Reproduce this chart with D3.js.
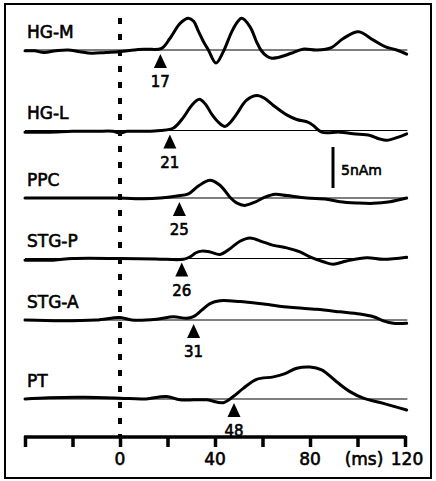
<!DOCTYPE html>
<html><head><meta charset="utf-8">
<script src="https://cdn.jsdelivr.net/npm/d3@7"></script>
<style>body{margin:0;background:#fff}svg{display:block}</style>
</head><body>
<script>
// ---- data (time in ms, amplitude in nAm) ----
const regions = ["HG-M", "HG-L", "PPC", "STG-P", "STG-A", "PT"];
const latencies = [17, 21, 25, 26, 31, 48];
const hgM = [[-40,-0.1],[-36,-0.1],[-32,-0.3],[-27,-0.1],[-22,0],[-17,-0.2],[-12,-0.4],[-6,-0.3],[0,-0.2],[6,0],[11,0.1],[17.5,0.2],[21,1.4],[25.3,3.25],[28.8,3.87],[31,3.5],[33,2.3],[35,1.1],[37.2,0],[40.4,-1.6],[43.5,-0.2],[47.7,2.6],[51.2,3.87],[54.7,2.85],[57.5,1.0],[59.3,0],[62,-0.8],[64,-1.0],[68,-0.8],[72,-0.4],[77,0.1],[83,0],[89,0.3],[94,1.4],[100.4,2.23],[106.7,1.2],[111.6,0.4],[116.5,0],[120.7,-0.5]];
const hgL = [[-40,-0.2],[-30,-0.2],[-20,-0.1],[-10,-0.1],[-3,-0.1],[0,-0.3],[3,-0.1],[10,-0.1],[17,0],[22.5,0.3],[26.7,1.6],[30,3.0],[33.4,3.8],[36,3.2],[38.6,2.0],[41.5,1.0],[44.2,0.5],[46.5,1.0],[49.1,2.0],[53.3,3.7],[57.8,4.27],[61,3.9],[64.6,3.05],[70.2,1.9],[74.4,1.34],[79.3,1.0],[81.4,0.6],[84.9,-0.2],[92.6,-0.2],[98.2,-0.4],[105.3,-0.6],[109,-1.0],[112.3,-1.2],[117.2,-0.8],[120.7,-0.4]];
const ppc = [[-40,0],[-20,0],[0,0],[10,-0.1],[17,0],[24,0.25],[28.8,0.5],[33,1.46],[37.9,2.16],[42.1,1.55],[46.3,0.1],[49.1,-0.6],[52.6,-0.9],[56.8,-0.5],[61,0.1],[65.3,0.45],[70.2,0.3],[78.6,0],[87,-0.15],[92.6,-0.45],[99.6,-0.6],[106.7,-0.65],[113.7,-0.45],[120.7,0]];
const stgP = [[-40,-0.2],[-28,-0.2],[-20,0],[0,0],[15,-0.05],[26.7,-0.1],[29.5,0.2],[32,0.7],[34.4,0.9],[37.9,0.8],[42.1,0.5],[46.3,1.2],[50.5,2.1],[54.7,2.5],[60.4,2.0],[64.6,1.6],[70.2,1.3],[75.8,0.8],[80.7,0.1],[85.6,-0.4],[89.8,-0.7],[95.4,-0.3],[103.9,0.1],[110.9,-0.1],[120.7,0.15]];
const stgA = [[-40,0],[-25,-0.1],[-10,0],[0,0.3],[5,0],[15.4,0.1],[22.5,0.4],[28.1,0.2],[30.9,0.4],[34.4,1.2],[37.9,2.0],[42.1,2.35],[50.5,2.25],[60.4,1.95],[71.6,1.55],[82.8,1.3],[92.6,1.0],[101,0.73],[106.7,0.4],[110.9,-0.1],[115.1,-0.4],[120.7,-0.4]];
const pt = [[-40,0],[-30,0.15],[-15,0.2],[0,0.1],[10,0],[19.6,0.3],[25.3,-0.1],[36.5,-0.1],[43.5,-0.45],[47.7,0.3],[51.9,1.3],[57.5,2.4],[64.6,2.7],[69.5,3.1],[74.4,3.75],[80,3.9],[84.9,3.55],[91.2,2.1],[96.8,0.9],[102.5,0.1],[110.9,-0.53],[120.7,-1.34]];
const series = [hgM, hgL, ppc, stgP, stgA, pt];
const xTicks = [-40, -20, 0, 20, 40, 60, 80, 100, 120];
const xTickLabels = [0, 40, 80, 120];
const unitLabel = "(ms)";
const scaleBarValue = 5;
const scaleBarLabel = "5nAm";

// ---- layout ----
const W = 436, H = 481;
const baselines = [50, 130.5, 198, 258.5, 320, 399];
const axisY = 437;
const font = "'DejaVu Sans', sans-serif";

const svg = d3.select("body").append("svg").attr("width", W).attr("height", H);

const x = d3.scaleLinear().domain([-40, 120]).range([25, 405]);
const amp = d3.scaleLinear().domain([0, 5]).range([0, -41]);

function txt(sel, size) {
  return sel.attr("font-family", font).attr("font-size", size)
    .attr("fill", "#000").attr("stroke", "#000").attr("stroke-width", 0.6);
}

// frame
svg.append("rect").attr("x", 5).attr("y", 4).attr("width", 426).attr("height", 474)
  .attr("fill", "none").attr("stroke", "#000").attr("stroke-width", 2);

// stimulus onset dashed line
svg.append("line").attr("x1", x(0)).attr("x2", x(0)).attr("y1", 18).attr("y2", axisY)
  .attr("stroke", "#000").attr("stroke-width", 4).attr("stroke-dasharray", "6,10");

const line = d3.line().curve(d3.curveCatmullRom.alpha(0.5));

series.forEach((data, i) => {
  const b = baselines[i];
  const g = svg.append("g");
  // zero baseline
  g.append("line").attr("x1", x(-40)).attr("x2", x(121)).attr("y1", b).attr("y2", b)
    .attr("stroke", "#000").attr("stroke-width", 1.2);
  // trace
  g.append("path")
    .attr("d", line(data.map(d => [x(d[0]), b + amp(d[1])])))
    .attr("fill", "none").attr("stroke", "#000").attr("stroke-width", 3)
    .attr("stroke-linejoin", "round").attr("stroke-linecap", "round");
  // region label
  txt(g.append("text").attr("x", 27).attr("y", b - 12).text(regions[i]), 17);
  // latency arrow
  const lx = x(latencies[i]);
  g.append("path")
    .attr("d", `M${lx},${b + 4}L${lx + 6.5},${b + 18}L${lx - 6.5},${b + 18}Z`)
    .attr("fill", "#000");
  txt(g.append("text").attr("x", lx).attr("y", b + 37).attr("text-anchor", "middle")
    .text(latencies[i]), 15);
});

// scale bar
const sbx = 333, sbTop = 147;
svg.append("line").attr("x1", sbx).attr("x2", sbx).attr("y1", sbTop).attr("y2", sbTop - amp(scaleBarValue))
  .attr("stroke", "#000").attr("stroke-width", 3);
txt(svg.append("text").attr("x", 341).attr("y", 175).text(scaleBarLabel), 14);

// time axis
const axis = d3.axisBottom(x).tickValues(xTicks).tickSize(10).tickSizeOuter(0).tickFormat("");
const ag = svg.append("g").attr("transform", `translate(0,${axisY})`).call(axis);
ag.select(".domain").attr("stroke-width", 3.5).attr("d", `M${x(-40)-1},0H${x(120)+1}`);
ag.selectAll(".tick line").attr("stroke-width", 3.5).attr("y1", -1);

svg.selectAll(".tlabel").data(xTickLabels).enter().append("text")
  .attr("class", "tlabel")
  .attr("x", d => x(d) + (d === 120 ? 2 : 0)).attr("y", 465).attr("text-anchor", "middle").text(d => d)
  .call(s => txt(s, 17));
txt(svg.append("text").attr("x", 364).attr("y", 465).attr("text-anchor", "middle").text(unitLabel), 17);
</script>
</body></html>
